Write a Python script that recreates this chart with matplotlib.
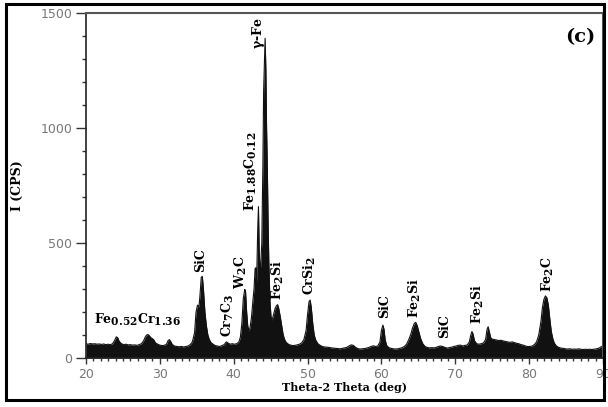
import matplotlib
matplotlib.use("Agg")
import matplotlib.pyplot as plt
import matplotlib._mathtext as _mt
from matplotlib.patches import Rectangle
from matplotlib.ticker import MultipleLocator

plt.rcParams['mathtext.fontset'] = 'dejavuserif'
_mt.SHRINK_FACTOR = 0.85

# ---- data ----
two_theta = [
    20.0, 20.3, 20.6, 20.9, 21.2, 21.5, 21.8, 22.1, 22.4, 22.7, 23.0, 23.3, 23.6, 23.9, 24.1, 24.3, 24.5, 24.8,
    25.1, 25.4, 25.7, 26.0, 26.3, 26.6, 26.9, 27.2, 27.5, 27.8, 28.0, 28.2, 28.4, 28.6, 28.8, 29.0, 29.2, 29.4,
    29.7, 30.0, 30.3, 30.6, 30.9, 31.1, 31.3, 31.5, 31.7, 32.0, 32.3, 32.6, 32.9, 33.2, 33.5, 33.8, 34.1, 34.4,
    34.7, 34.9, 35.1, 35.3, 35.45, 35.6, 35.75, 35.9, 36.1, 36.3, 36.5, 36.7, 36.9, 37.2, 37.5, 37.8, 38.1, 38.4,
    38.7, 39.0, 39.2, 39.5, 39.8, 40.1, 40.4, 40.7, 40.9, 41.1, 41.3, 41.5, 41.6, 41.75, 41.9, 42.05, 42.2, 42.4,
    42.6, 42.75, 42.9, 43.0, 43.1, 43.25, 43.35, 43.45, 43.55, 43.65, 43.8, 43.95, 44.05, 44.15, 44.25, 44.35,
    44.45, 44.55, 44.65, 44.75, 44.9, 45.05, 45.2, 45.4, 45.6, 45.8, 45.95, 46.1, 46.3, 46.5, 46.7, 46.9, 47.1,
    47.4, 47.7, 48.0, 48.3, 48.6, 48.9, 49.2, 49.5, 49.8, 50.0, 50.2, 50.35, 50.5, 50.7, 50.9, 51.1, 51.4, 51.7,
    52.0, 52.3, 52.6, 52.9, 53.2, 53.5, 53.8, 54.1, 54.4, 54.7, 55.0, 55.3, 55.6, 55.9, 56.2, 56.5, 56.8, 57.1,
    57.4, 57.7, 58.0, 58.3, 58.6, 58.9, 59.2, 59.5, 59.8, 60.0, 60.2, 60.35, 60.5, 60.7, 61.0, 61.3, 61.6, 61.9,
    62.2, 62.5, 62.8, 63.1, 63.4, 63.7, 64.0, 64.2, 64.45, 64.65, 64.85, 65.1, 65.3, 65.6, 65.9, 66.2, 66.5, 66.8,
    67.1, 67.4, 67.7, 68.0, 68.3, 68.6, 68.9, 69.2, 69.5, 69.8, 70.1, 70.4, 70.7, 71.0, 71.3, 71.6, 71.9, 72.1,
    72.25, 72.4, 72.6, 72.9, 73.2, 73.5, 73.8, 74.1, 74.3, 74.45, 74.6, 74.8, 75.0, 75.3, 75.6, 75.9, 76.2, 76.5,
    76.8, 77.1, 77.4, 77.7, 78.0, 78.3, 78.6, 78.9, 79.2, 79.5, 79.8, 80.1, 80.4, 80.7, 81.0, 81.3, 81.6, 81.8,
    82.0, 82.2, 82.4, 82.6, 82.8, 83.0, 83.2, 83.4, 83.7, 84.0, 84.3, 84.6, 84.9, 85.2, 85.5, 85.8, 86.1, 86.4,
    86.7, 87.0, 87.3, 87.6, 87.9, 88.2, 88.5, 88.8, 89.1, 89.4, 89.7, 90.0,
]
intensity = [
    62, 60, 63, 61, 62, 60, 61, 59, 61, 58, 60, 58, 62, 78, 92, 88, 72, 62,
    58, 60, 57, 58, 56, 57, 55, 58, 62, 75, 90, 100, 102, 96, 88, 84, 78, 66,
    60, 56, 54, 55, 60, 75, 80, 70, 58, 52, 50, 49, 50, 48, 50, 52, 58, 70,
    110, 200, 230, 222, 280, 350, 355, 300, 200, 140, 100, 80, 68, 60, 54, 52, 50, 54,
    58, 70, 66, 60, 62, 60, 62, 70, 90, 150, 260, 298, 290, 200, 140, 118, 130, 175,
    250, 300, 390, 392, 330, 560, 658, 470, 375, 400, 500, 840, 1160, 1270, 1390, 1260,
    1000, 830, 600, 420, 250, 180, 165, 190, 215, 228, 232, 215, 180, 140, 100, 80, 68,
    60, 56, 54, 55, 57, 60, 66, 80, 120, 190, 245, 252, 220, 150, 100, 78, 62, 55,
    50, 48, 47, 46, 44, 43, 42, 41, 40, 42, 44, 46, 52, 57, 55, 46, 41, 39,
    40, 41, 43, 46, 50, 53, 50, 52, 70, 120, 143, 125, 80, 55, 45, 42, 40, 39,
    40, 42, 45, 50, 60, 80, 105, 130, 150, 155, 140, 110, 85, 62, 50, 46, 44, 45,
    44, 46, 50, 52, 50, 46, 43, 45, 47, 50, 52, 55, 56, 52, 55, 56, 70, 100,
    115, 105, 75, 62, 60, 62, 65, 80, 125, 136, 115, 88, 82, 80, 78, 76, 77, 74,
    72, 70, 68, 70, 67, 64, 62, 58, 56, 52, 50, 50, 52, 58, 70, 100, 160, 220,
    255, 270, 262, 230, 170, 115, 85, 65, 52, 46, 43, 42, 40, 39, 40, 38, 39, 38,
    40, 38, 37, 38, 37, 38, 37, 38, 40, 42, 48, 52,
]

# phase labels: (text, x position, y bottom, rotation)
label_text = [r'$\mathbf{Fe_{0.52}Cr_{1.36}}$', 'SiC', r'$\mathbf{Cr_7C_3}$', r'$\mathbf{W_2C}$',
              r'$\mathbf{Fe_{1.88}C_{0.12}}$', r'$\mathbf{\gamma}$-Fe', r'$\mathbf{Fe_2Si}$',
              r'$\mathbf{CrSi_2}$', 'SiC', r'$\mathbf{Fe_2Si}$', 'SiC', r'$\mathbf{Fe_2Si}$', r'$\mathbf{Fe_2C}$']
label_x = [21.1, 35.5, 39.2, 41.0, 42.3, 43.4, 46.0, 50.3, 60.5, 64.5, 68.6, 73.1, 82.5]
label_y = [130, 372, 90, 300, 640, 1345, 250, 272, 172, 172, 86, 150, 285]
label_rot = [0, 90, 90, 90, 90, 90, 90, 90, 90, 90, 90, 90, 90]

x_ticks = [20, 30, 40, 50, 60, 70, 80, 90]
y_ticks = [0, 500, 1000, 1500]

fig = plt.figure(figsize=(6.08, 4.07), dpi=100)
ax = fig.add_axes([86/608, 1-358/407, (603-86)/608, (358-13)/407])

ax.fill_between(two_theta, 0, intensity, color='#111111', lw=0)
ax.plot(two_theta, intensity, color='#111111', lw=0.8)

ax.set_xlim(20, 90)
ax.set_ylim(0, 1500)
ax.set_xticks(x_ticks)
ax.set_yticks(y_ticks)
ax.xaxis.set_minor_locator(MultipleLocator(1))
ax.yaxis.set_minor_locator(MultipleLocator(100))
ax.tick_params(which='both', direction='out', width=1.0, color='#333333',
               labelsize=9, labelcolor='#777777')
ax.tick_params(axis='y', which='major', length=7, pad=3)
ax.tick_params(axis='y', which='minor', length=3)
ax.tick_params(axis='x', which='major', length=4, pad=3)
ax.tick_params(axis='x', which='minor', length=2.2)
for t in ax.get_xticklabels() + ax.get_yticklabels():
    t.set_family('DejaVu Sans')

for side in ['left', 'bottom']:
    ax.spines[side].set_color('#222222')
    ax.spines[side].set_linewidth(1.2)
for side in ['top', 'right']:
    ax.spines[side].set_color('#555555')
    ax.spines[side].set_linewidth(1.5)

ax.set_ylabel('I (CPS)', fontsize=9, fontweight='bold', family='DejaVu Serif')
ax.yaxis.set_label_coords((24-86)/517, 0.5)
ax.set_xlabel('Theta-2 Theta (deg)', fontsize=8, fontweight='bold', family='DejaVu Serif', labelpad=1)

for txt, xx, yy, rot in zip(label_text, label_x, label_y, label_rot):
    if rot == 0:
        ax.text(xx, yy, txt, rotation=0, ha='left', va='bottom', fontsize=9,
                fontweight='bold', family='DejaVu Serif')
    else:
        ax.text(xx, yy, txt, rotation=90, ha='center', va='bottom', fontsize=9,
                fontweight='bold', family='DejaVu Serif')

ax.text(0.985, 0.93, '(c)', transform=ax.transAxes, ha='right', va='center',
        fontsize=14, fontweight='bold', family='DejaVu Serif')

# outer frame
fig.patches.append(Rectangle((6/608, 1-400/407), (604-6)/608, (400-4)/407, transform=fig.transFigure,
                             fill=False, edgecolor='black', linewidth=2.2, zorder=10))

fig.savefig('out.png', dpi=100)
